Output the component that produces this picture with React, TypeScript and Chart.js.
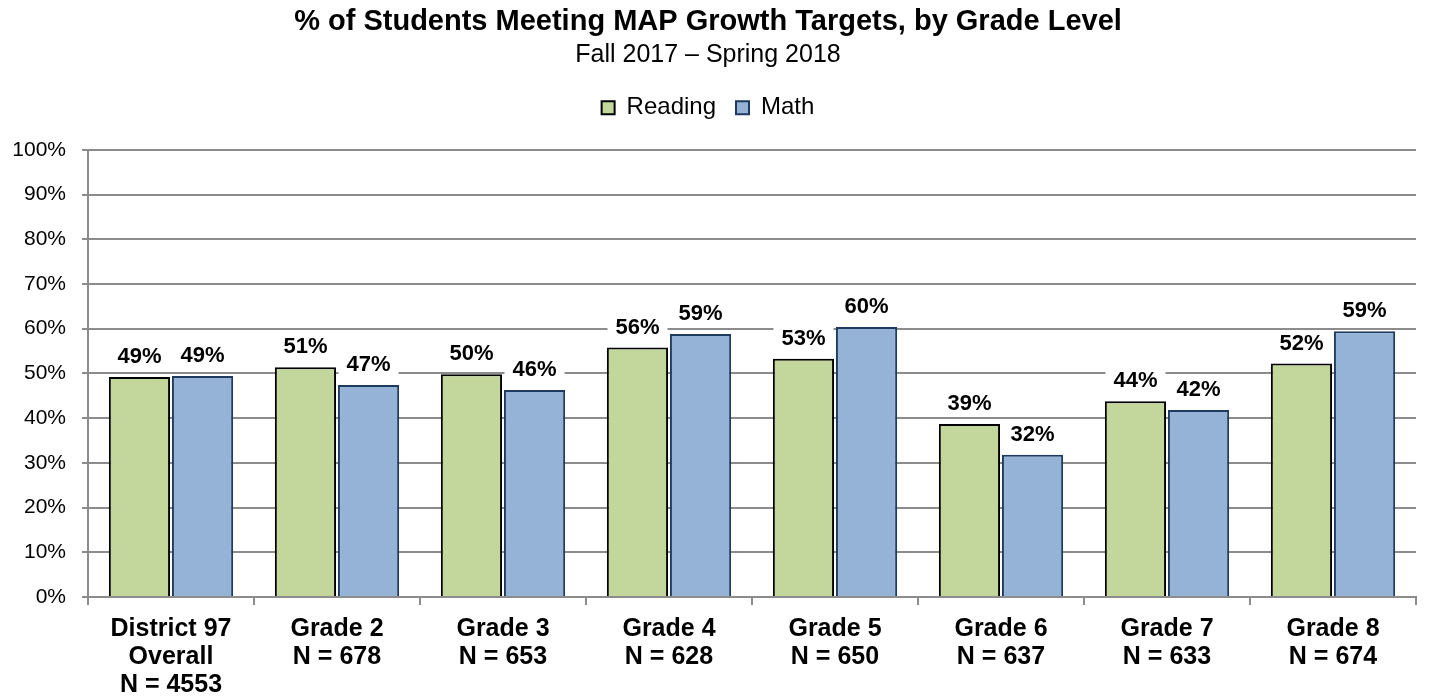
import React, { useEffect, useRef } from "react";
import { Chart, registerables } from "chart.js";

Chart.register(...registerables);

const categoryLabels: string[][] = [
  ["District 97", "Overall", "N = 4553"],
  ["Grade 2", "N = 678"],
  ["Grade 3", "N = 653"],
  ["Grade 4", "N = 628"],
  ["Grade 5", "N = 650"],
  ["Grade 6", "N = 637"],
  ["Grade 7", "N = 633"],
  ["Grade 8", "N = 674"],
];

const readingValues = [49.2, 51.4, 49.8, 55.8, 53.3, 38.7, 43.8, 52.2];
const mathValues = [49.4, 47.4, 46.3, 58.8, 60.4, 31.8, 41.8, 59.4];

const yTicks = [0, 10, 20, 30, 40, 50, 60, 70, 80, 90, 100];

const FONT = "'Liberation Sans', Arial, Helvetica, sans-serif";

const valueLabelPlugin = {
  id: "valueLabels",
  afterDatasetsDraw(chart: any) {
    const ctx = chart.ctx;
    ctx.save();
    ctx.font = `bold 22px ${FONT}`;
    ctx.textAlign = "center";
    ctx.textBaseline = "middle";
    chart.data.datasets.forEach((ds: any, di: number) => {
      const meta = chart.getDatasetMeta(di);
      meta.data.forEach((bar: any, i: number) => {
        const v = ds.data[i];
        const text = Math.round(v) + "%";
        const w = ctx.measureText(text).width;
        const cy = bar.y - 20;
        ctx.fillStyle = "#ffffff";
        ctx.fillRect(bar.x - w / 2 - 8, cy - 13, w + 16, 24);
        ctx.fillStyle = "#000000";
        ctx.fillText(text, bar.x, cy);
      });
    });
    ctx.restore();
  },
};

// adds extra space below the legend, before the plot area
const legendGapPlugin = {
  id: "legendGap",
  afterInit(chart: any) {
    const lg = chart.legend;
    if (!lg) return;
    const origFit = lg.fit.bind(lg);
    lg.fit = function () {
      origFit();
      this.height += 20;
    };
  },
};

export default function App() {
  const canvasRef = useRef<HTMLCanvasElement | null>(null);

  useEffect(() => {
    if (!canvasRef.current) return;
    Chart.defaults.font.family = FONT;
    Chart.defaults.color = "#000";
    const chart = new Chart(canvasRef.current, {
      type: "bar",
      data: {
        labels: categoryLabels,
        datasets: [
          {
            label: "Reading",
            data: readingValues,
            backgroundColor: "#C3D69B",
            borderColor: "#000000",
            borderWidth: 2,
            categoryPercentage: 0.76,
            barPercentage: 0.97,
          },
          {
            label: "Math",
            data: mathValues,
            backgroundColor: "#95B3D7",
            borderColor: "#1F3A5F",
            borderWidth: 2,
            categoryPercentage: 0.76,
            barPercentage: 0.97,
          },
        ],
      },
      options: {
        responsive: true,
        maintainAspectRatio: false,
        animation: false,
        layout: { padding: { left: 0, right: 13, top: 0, bottom: 0 } },
        plugins: {
          title: {
            display: true,
            text: "% of Students Meeting MAP Growth Targets, by Grade Level",
            font: { size: 29, weight: "bold", family: FONT },
            color: "#000",
            padding: { top: 5, bottom: 0 },
          },
          subtitle: {
            display: true,
            text: "Fall 2017 – Spring 2018",
            font: { size: 25, family: FONT },
            color: "#000",
            padding: { top: 0, bottom: 6 },
          },
          legend: {
            display: true,
            labels: {
              boxWidth: 13,
              boxHeight: 13,
              font: { size: 24, family: FONT },
              color: "#000",
              padding: 20,
            },
          },
          tooltip: { enabled: false },
        },
        scales: {
          x: {
            afterFit(scale: any) {
              scale.height = 101;
            },
            grid: {
              display: true,
              drawOnChartArea: false,
              drawTicks: true,
              tickLength: 8,
              color: "#8c8c8c",
              lineWidth: 2,
            },
            border: { display: true, color: "#8c8c8c", width: 2 },
            ticks: {
              font: { size: 25, weight: "bold", family: FONT, lineHeight: 1.12 },
              color: "#000",
              padding: 10,
              maxRotation: 0,
              autoSkip: false,
            },
          },
          y: {
            min: 0,
            max: 100,
            afterFit(scale: any) {
              scale.width = 88;
            },
            afterBuildTicks(scale: any) {
              scale.ticks = yTicks.map((v) => ({ value: v }));
            },
            grid: {
              color: "#8c8c8c",
              lineWidth: 2,
              drawTicks: true,
              tickLength: 6,
            },
            border: { display: true, color: "#8c8c8c", width: 2 },
            ticks: {
              font: { size: 21, family: FONT },
              color: "#000",
              padding: 16,
              callback: (v: any) => v + "%",
            },
          },
        },
      },
      plugins: [valueLabelPlugin, legendGapPlugin],
    });
    return () => chart.destroy();
  }, []);

  return (
    <div style={{ position: "fixed", left: 0, top: 0, width: 1429, height: 698, background: "#fff" }}>
      <canvas ref={canvasRef} />
    </div>
  );
}
